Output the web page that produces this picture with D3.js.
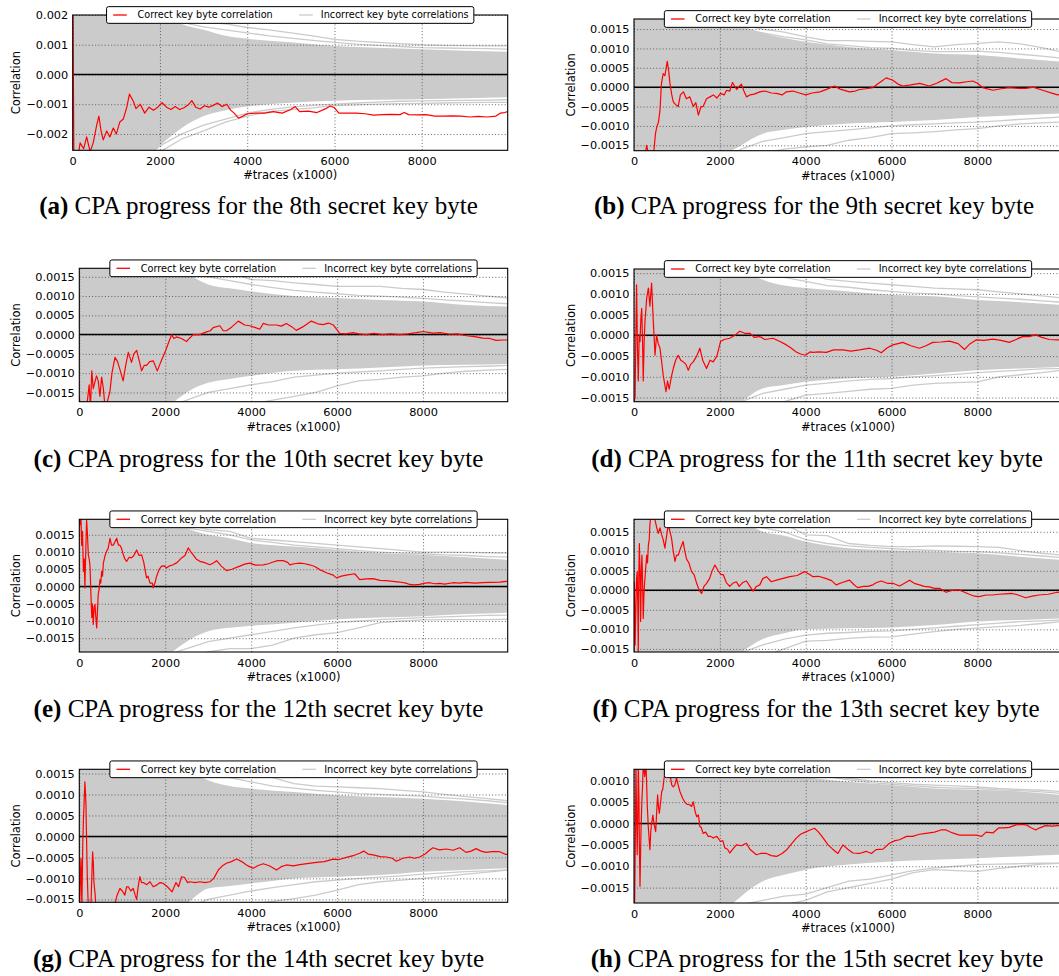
<!DOCTYPE html>
<html><head><meta charset="utf-8">
<script src="https://cdn.jsdelivr.net/npm/d3@7"></script>
<style>body{margin:0;background:#fff}svg{display:block}</style>
</head><body>
<svg id="fig" width="1059" height="976"></svg>
<script>
// ---- shared axis settings ----
const xMax = 9970;
const xTicks = [0, 2000, 4000, 6000, 8000];
const letters = ["a", "b", "c", "d", "e", "f", "g", "h"];
const byteNames = ["8th", "9th", "10th", "11th", "12th", "13th", "14th", "15th"];
const yDomains = [[-0.00255, 0.002], [-0.00164, 0.00176], [-0.00174, 0.00172], [-0.0016, 0.0016],
                  [-0.0019, 0.00195], [-0.00158, 0.00182], [-0.00157, 0.0016], [-0.00186, 0.00127]];
const ticksA = [-0.002, -0.001, 0, 0.001, 0.002];
const ticksMid = [-0.0015, -0.001, -0.0005, 0, 0.0005, 0.001, 0.0015];
const ticksH = [-0.0015, -0.001, -0.0005, 0, 0.0005, 0.001];
const legendLabels = ["Correct key byte correlation", "Incorrect key byte correlations"];

// x positions of the incorrect-key band limits and of the stray incorrect-key traces
const envX = [0, 1000, 1500, 2000, 2500, 3000, 3500, 4000, 5000, 6000, 7000, 8000, 9000, 9970];
const outX = [1500, 2000, 2500, 3000, 3500, 4000, 4500, 5000, 5500, 6000, 6500, 7000, 7500, 8000, 8500, 9000, 9500, 9970];

// ---- (a) 8th byte ----
const redA = [[0,0.0035],[30,-0.0035],[100,-0.003],[170,-0.0023],[250,-0.0025],[320,-0.0021],[400,-0.0026],[470,-0.0023],[550,-0.0017],[600,-0.0014],[650,-0.0019],[700,-0.0022],[780,-0.0019],[850,-0.0021],[930,-0.0018],[1000,-0.002],[1080,-0.0016],[1160,-0.0015],[1240,-0.0011],[1300,-0.00066],[1390,-0.0009],[1450,-0.00115],[1550,-0.001],[1650,-0.0013],[1750,-0.0011],[1850,-0.0012],[1950,-0.0011],[2050,-0.00095],[2150,-0.0011],[2250,-0.00118],[2350,-0.00108],[2450,-0.00118],[2550,-0.00112],[2650,-0.00102],[2730,-0.00088],[2820,-0.0011],[2920,-0.00116],[3020,-0.00105],[3120,-0.0011],[3220,-0.00104],[3320,-0.00096],[3420,-0.00108],[3530,-0.001],[3620,-0.0012],[3700,-0.0013],[3800,-0.00147],[3900,-0.0014],[4000,-0.00132],[4200,-0.0013],[4400,-0.0013],[4600,-0.00125],[4800,-0.0013],[5000,-0.00118],[5100,-0.00108],[5200,-0.00125],[5400,-0.00123],[5600,-0.00128],[5800,-0.00115],[5900,-0.00106],[6000,-0.00112],[6100,-0.0013],[6300,-0.0013],[6500,-0.0013],[6700,-0.00132],[6900,-0.00137],[7100,-0.00135],[7300,-0.00134],[7500,-0.00135],[7600,-0.00128],[7700,-0.00135],[7900,-0.00136],[8100,-0.00135],[8300,-0.0014],[8500,-0.0014],[8700,-0.00139],[8900,-0.0014],[9100,-0.00143],[9300,-0.00141],[9500,-0.00143],[9700,-0.0014],[9800,-0.0013],[9900,-0.00128],[9970,-0.00125]];
const envHiA = [0.005, 0.004, 0.003, 0.0021, 0.0017, 0.0015, 0.0013, 0.0012, 0.00108, 0.00096, 0.0009, 0.00085, 0.0008, 0.00076];
const envLoA = [-0.005, -0.004, -0.0032, -0.0024, -0.0018, -0.0014, -0.0012, -0.00108, -0.00095, -0.00088, -0.00085, -0.00083, -0.0008, -0.00077];
const outA = [
  [0.0025,0.0021,0.00185,0.00175,0.0017,0.00158,0.0015,0.0014,0.0013,0.00118,0.00112,0.00108,0.00104,0.001,0.00098,0.00097,0.00096,0.00096],
  [0.0024,0.002,0.00175,0.0016,0.0015,0.0014,0.0013,0.00122,0.00115,0.00108,0.00102,0.00098,0.00094,0.0009,0.00089,0.00088,0.00087,0.00085],
  [-0.0032,-0.0026,-0.00217,-0.0019,-0.0016,-0.0014,-0.00125,-0.00118,-0.00112,-0.00105,-0.00102,-0.001,-0.00098,-0.00097,-0.00096,-0.00095,-0.00094,-0.00094],
  [-0.003,-0.0024,-0.002,-0.0017,-0.0015,-0.0013,-0.00118,-0.0011,-0.00104,-0.001,-0.00096,-0.00093,-0.0009,-0.00089,-0.00088,-0.00087,-0.00086,-0.00085]];

// ---- (b) 9th byte ----
const redB = [[0,-0.004],[150,-0.0028],[250,-0.0018],[295,-0.0015],[370,-0.0019],[450,-0.0018],[500,-0.0012],[530,-0.00103],[570,-0.0009],[605,-0.0006],[640,0.0001],[680,0.00035],[720,0.0003],[775,0.00067],[810,0.0004],[837,0.0001],[880,-0.0002],[915,-0.00038],[970,-0.00045],[1030,-0.0005],[1080,-0.0002],[1150,-0.00012],[1220,-0.0003],[1300,-0.00025],[1380,-0.0005],[1440,-0.0004],[1500,-0.00072],[1560,-0.0005],[1610,-0.0005],[1690,-0.0003],[1770,-0.00025],[1850,-0.0002],[1930,-0.00028],[2015,-0.00016],[2100,-0.0002],[2155,-0.00008],[2230,-0.0001],[2295,0.00012],[2390,-0.00006],[2500,0.00008],[2560,-0.0001],[2620,-0.00025],[2700,-0.0002],[2800,-0.00018],[2930,-0.00012],[3050,-0.0001],[3200,-0.00015],[3320,-0.00016],[3450,-0.0002],[3550,-0.00012],[3700,-0.0001],[3850,-0.00015],[4000,-0.0002],[4150,-0.00015],[4330,-0.00012],[4500,-0.00005],[4670,0.00003],[4800,-0.00005],[5020,-0.00012],[5150,-0.0001],[5255,-0.00006],[5400,-0.00004],[5565,-0.00001],[5700,0.0001],[5875,0.00024],[6030,0.00018],[6150,0.00008],[6260,0.00003],[6450,0.00006],[6650,0.0001],[6880,0.00003],[7050,0.0001],[7270,0.00022],[7400,0.00012],[7580,0.00011],[7750,0.00014],[7890,0.00016],[8000,0.0001],[8120,-0.00001],[8360,-0.00008],[8550,-0.00004],[8740,-0.00001],[8950,-0.00003],[9130,-0.00003],[9300,0],[9520,-0.00008],[9750,-0.00016],[9870,-0.0002],[9970,-0.00018]];
const envHiB = [0.005, 0.004, 0.003, 0.0019, 0.0016, 0.0014, 0.00127, 0.00117, 0.00104, 0.00096, 0.00087, 0.00083, 0.00074, 0.00066];
const envLoB = [-0.005, -0.004, -0.003, -0.0019, -0.0015, -0.0012, -0.0011, -0.00103, -0.00094, -0.0009, -0.00085, -0.00077, -0.00072, -0.00068];
const outB = [
  [0.0024,0.0019,0.0016,0.0015,0.00142,0.0013,0.0012,0.0012,0.00118,0.00117,0.0011,0.00104,0.0011,0.00113,0.00117,0.00112,0.00102,0.00091],
  [0.0023,0.0018,0.0015,0.0014,0.0013,0.00122,0.00112,0.00107,0.00102,0.001,0.00095,0.00092,0.00092,0.00093,0.0009,0.00085,0.0008,0.00075],
  [-0.0025,-0.002,-0.0018,-0.0017,-0.0016,-0.00154,-0.0015,-0.00137,-0.0013,-0.0012,-0.00118,-0.00115,-0.0011,-0.00107,-0.001,-0.00095,-0.00092,-0.0009],
  [-0.0024,-0.0019,-0.0016,-0.0014,-0.0013,-0.0012,-0.00115,-0.0011,-0.00105,-0.001,-0.00097,-0.00095,-0.00092,-0.0009,-0.00087,-0.00083,-0.0008,-0.00077]];

// ---- (c) 10th byte ----
const redC = [[0,-0.0016],[20,-0.0019],[100,-0.002],[180,-0.0018],[230,-0.0013],[260,-0.0019],[290,-0.00094],[325,-0.0014],[400,-0.00107],[440,-0.0012],[480,-0.0016],[520,-0.0011],[560,-0.0014],[600,-0.0019],[635,-0.0018],[710,-0.0015],[760,-0.001],[830,-0.00059],[890,-0.0007],[945,-0.0009],[1020,-0.0012],[1080,-0.0008],[1140,-0.00046],[1215,-0.00072],[1270,-0.0005],[1335,-0.00041],[1400,-0.0007],[1450,-0.00094],[1510,-0.0008],[1565,-0.0008],[1640,-0.0007],[1720,-0.00068],[1815,-0.00094],[1900,-0.0007],[2010,-0.00041],[2080,-0.0002],[2150,0],[2200,-0.0001],[2265,-0.00006],[2380,-0.0001],[2495,-0.00018],[2560,-0.0001],[2650,0],[2800,0],[2960,0.00007],[3050,0.0001],[3115,0.00018],[3270,0.00023],[3350,0.0001],[3425,0.0001],[3550,0.0002],[3700,0.00035],[3850,0.00025],[3970,0.00023],[4100,0.00018],[4200,0.00014],[4280,0.00029],[4400,0.00025],[4590,0.00025],[4700,0.00022],[4820,0.00029],[4950,0.0002],[5050,0.00011],[5200,0.0002],[5400,0.00035],[5550,0.00028],[5670,0.00026],[5800,0.0003],[5910,0.00025],[6000,0.00012],[6060,0.00003],[6200,0.00002],[6370,0.00005],[6500,0.00002],[6680,0],[6850,0.00003],[7070,0],[7250,0.00002],[7460,0],[7650,0.00002],[7840,0.00005],[8000,0.00008],[8230,0.00004],[8400,0.00005],[8620,0.00001],[8800,0.00002],[9010,-0.00003],[9200,-0.00005],[9390,-0.00009],[9550,-0.0001],[9700,-0.00015],[9860,-0.00014],[9970,-0.00014]];
const envHiC = [0.005, 0.004, 0.003, 0.002, 0.0016, 0.0013, 0.0012, 0.00112, 0.001, 0.00095, 0.0009, 0.00086, 0.00077, 0.00073];
const envLoC = [-0.005, -0.004, -0.003, -0.002, -0.0015, -0.00125, -0.00115, -0.00107, -0.00094, -0.0009, -0.00085, -0.0008, -0.00078, -0.00076];
const outC = [
  [0.0025,0.002,0.0018,0.0017,0.0016,0.00143,0.0014,0.00134,0.0013,0.00125,0.00125,0.00125,0.0012,0.00117,0.0011,0.00105,0.001,0.00095],
  [0.0024,0.0019,0.0016,0.0015,0.0014,0.0013,0.00122,0.00115,0.0011,0.00106,0.00102,0.001,0.00097,0.00094,0.0009,0.00087,0.00083,0.0008],
  [-0.0025,-0.002,-0.0019,-0.0018,-0.0018,-0.0018,-0.0017,-0.0016,-0.0015,-0.00133,-0.0012,-0.00116,-0.0011,-0.00107,-0.001,-0.00095,-0.00092,-0.0009],
  [-0.0024,-0.0019,-0.0017,-0.0015,-0.0014,-0.0013,-0.00122,-0.0011,-0.00105,-0.001,-0.00097,-0.00094,-0.0009,-0.00087,-0.00085,-0.00083,-0.00082,-0.0008]];

// ---- (d) 11th byte ----
const redD = [[0,-0.0016],[25,-0.0015],[45,0.0002],[60,0.00122],[80,-0.0003],[100,-0.0011],[120,0],[140,-0.00015],[160,0.0004],[180,0.00065],[200,-0.0002],[215,-0.0011],[235,-0.0002],[255,0.00033],[275,0.0006],[295,0.0009],[335,0.00114],[370,0.0007],[410,0.00126],[450,0.00033],[490,-0.00048],[525,0],[565,-0.0002],[605,-0.00031],[640,-0.0006],[680,-0.00096],[745,-0.00136],[780,-0.0011],[820,-0.0013],[870,-0.001],[915,-0.0008],[970,-0.0006],[1030,-0.00048],[1090,-0.0006],[1150,-0.00064],[1210,-0.0007],[1265,-0.00084],[1320,-0.0007],[1380,-0.00064],[1460,-0.0005],[1535,-0.00031],[1600,-0.0006],[1690,-0.0008],[1770,-0.0006],[1845,-0.00064],[1930,-0.0005],[2015,-0.00015],[2100,-0.0001],[2230,-0.00007],[2350,0],[2465,0.0001],[2580,0.00005],[2700,0.00005],[2800,-0.00005],[2930,-0.00003],[3050,-0.0001],[3240,-0.00007],[3400,-0.00015],[3550,-0.00023],[3650,-0.0003],[3780,-0.0004],[3880,-0.00045],[3990,-0.00048],[4100,-0.0004],[4170,-0.00041],[4300,-0.0004],[4480,-0.00041],[4650,-0.00035],[4870,-0.00035],[5050,-0.00038],[5255,-0.00035],[5490,-0.00031],[5650,-0.00036],[5760,-0.00042],[5900,-0.0003],[6030,-0.00023],[6150,-0.0002],[6260,-0.00017],[6450,-0.00025],[6650,-0.00031],[6800,-0.00025],[6960,-0.00017],[7150,-0.00016],[7350,-0.00014],[7550,-0.0002],[7700,-0.00034],[7830,-0.0002],[7970,-0.00011],[8150,-0.00012],[8360,-0.00009],[8550,-0.00012],[8740,-0.00017],[8900,-0.0001],[9050,-0.00003],[9200,-0.00003],[9360,0.00001],[9500,-0.00005],[9670,-0.0001],[9870,-0.00011],[9970,-0.00011]];
const envHiD = [0.005, 0.004, 0.003, 0.002, 0.0016, 0.00134, 0.0012, 0.00114, 0.00106, 0.00098, 0.00094, 0.00085, 0.0008, 0.00073];
const envLoD = [-0.005, -0.004, -0.003, -0.002, -0.0016, -0.00128, -0.0012, -0.00112, -0.00104, -0.001, -0.00092, -0.00084, -0.0008, -0.00076];
const outD = [
  [0.0025,0.002,0.0018,0.0017,0.0016,0.0015,0.00135,0.0013,0.00126,0.00122,0.00118,0.00114,0.00112,0.0011,0.00105,0.001,0.00095,0.0009],
  [0.0024,0.0019,0.0016,0.0015,0.0014,0.0013,0.0012,0.00116,0.0011,0.00106,0.00102,0.001,0.00096,0.00093,0.0009,0.00087,0.00083,0.0008],
  [-0.0025,-0.002,-0.0018,-0.0017,-0.0016,-0.00144,-0.0014,-0.00135,-0.0013,-0.00128,-0.0012,-0.00116,-0.00114,-0.00112,-0.001,-0.00095,-0.0009,-0.00084],
  [-0.0024,-0.0019,-0.0016,-0.0014,-0.0013,-0.0012,-0.00115,-0.0011,-0.00106,-0.00104,-0.001,-0.00097,-0.00094,-0.0009,-0.00087,-0.00084,-0.00081,-0.0008]];

// ---- (e) 12th byte ----
const redE = [[0,0.0025],[15,0.00179],[35,0.0022],[55,0.0012],[75,0.0016],[95,0.00044],[115,0.0008],[130,-0.00004],[150,0.001],[170,0.00193],[190,0.0015],[210,0.00092],[230,0.0008],[250,0.00058],[270,-0.0002],[290,-0.0009],[305,-0.0005],[325,-0.0011],[345,-0.0006],[365,-0.00052],[385,-0.0009],[405,-0.0012],[420,-0.0008],[440,-0.00023],[460,-0.0001],[480,0.0002],[500,0.0001],[520,0.00044],[540,0.0003],[560,0.00068],[600,0.0009],[635,0.00102],[670,0.0011],[715,0.0014],[750,0.0012],[790,0.0012],[830,0.0013],[870,0.0014],[910,0.0012],[945,0.0012],[985,0.0011],[1025,0.00092],[1060,0.0008],[1100,0.00073],[1160,0.00085],[1215,0.00083],[1270,0.0009],[1335,0.00106],[1390,0.0009],[1450,0.00092],[1500,0.0007],[1565,0.00025],[1600,0.0003],[1645,0.0001],[1700,0.0001],[1720,-0.00004],[1760,0.0001],[1800,0.0003],[1860,0.0005],[1915,0.00059],[1970,0.0006],[2030,0.00054],[2100,0.0006],[2185,0.00063],[2280,0.0007],[2380,0.00083],[2460,0.0009],[2535,0.00112],[2600,0.001],[2650,0.00092],[2720,0.0008],[2805,0.00073],[2900,0.0007],[3040,0.00063],[3120,0.00068],[3195,0.00075],[3300,0.0006],[3425,0.00046],[3550,0.0005],[3735,0.00059],[3850,0.00065],[3970,0.00068],[4100,0.00062],[4280,0.00063],[4400,0.00066],[4510,0.00071],[4620,0.00075],[4745,0.00075],[4850,0.0007],[4900,0.00063],[5000,0.00066],[5130,0.00068],[5250,0.00066],[5360,0.00063],[5480,0.00058],[5595,0.00049],[5750,0.0004],[5910,0.00033],[5985,0.00025],[6100,0.0003],[6215,0.00033],[6410,0.00037],[6525,0.0002],[6680,0.00022],[6835,0.00023],[7000,0.00018],[7145,0.00017],[7300,0.00015],[7460,0.00013],[7600,0.0001],[7690,0.00006],[7800,0.00005],[7920,0.00006],[8050,0.0001],[8155,0.00011],[8270,0.00008],[8385,0.00009],[8500,0.00007],[8695,0.00011],[8850,0.0001],[9000,0.00012],[9200,0.0001],[9390,0.00011],[9550,0.00012],[9780,0.00013],[9935,0.00015],[9970,0.00015]];
const envHiE = [0.005, 0.004, 0.003, 0.0021, 0.0017, 0.0015, 0.0014, 0.00126, 0.00116, 0.00107, 0.00097, 0.00092, 0.00085, 0.00078];
const envLoE = [-0.005, -0.004, -0.003, -0.0021, -0.0016, -0.0013, -0.0012, -0.00114, -0.00105, -0.00095, -0.0009, -0.00086, -0.0008, -0.00076];
const outE = [
  [0.0025,0.002,0.0018,0.00165,0.0016,0.0014,0.00135,0.0013,0.00125,0.0012,0.00115,0.0011,0.00105,0.001,0.001,0.00099,0.00098,0.00097],
  [0.0024,0.0019,0.0017,0.0016,0.0015,0.00135,0.00128,0.0012,0.00115,0.0011,0.00104,0.001,0.00097,0.00095,0.00092,0.0009,0.00087,0.00085],
  [-0.0025,-0.0021,-0.002,-0.0019,-0.0018,-0.0018,-0.0017,-0.0015,-0.0014,-0.00134,-0.0012,-0.00105,-0.001,-0.00097,-0.00096,-0.00096,-0.00096,-0.00095],
  [-0.0024,-0.002,-0.0018,-0.0016,-0.0015,-0.0014,-0.0013,-0.0012,-0.00112,-0.00105,-0.001,-0.00096,-0.00093,-0.0009,-0.00088,-0.00086,-0.00084,-0.00083]];

// ---- (f) 13th byte ----
const redF = [[0,-0.0016],[10,0.0002],[25,-0.0014],[45,-0.00038],[60,0.0003],[75,0.00048],[90,-0.0005],[100,-0.00157],[112,0.0004],[125,0.0012],[140,0.0004],[155,-0.0008],[170,0.0005],[185,0.0009],[200,0.0002],[215,-0.00072],[235,0],[255,0.0003],[275,0.0006],[295,0.0009],[315,0.0007],[335,0.00116],[355,0.0013],[370,0.00168],[390,0.0019],[410,0.0019],[450,0.0019],[490,0.0018],[530,0.0016],[565,0.00146],[605,0.0016],[645,0.00142],[680,0.0013],[720,0.00108],[760,0.0014],[800,0.00168],[840,0.0015],[875,0.00133],[915,0.001],[955,0.00074],[990,0.0009],[1030,0.0009],[1090,0.0011],[1145,0.00125],[1185,0.001],[1225,0.0008],[1280,0.0007],[1340,0.00048],[1400,0.0004],[1460,0.00018],[1520,0],[1575,-0.00008],[1630,0.0001],[1690,0.00018],[1760,0.0003],[1820,0.0005],[1885,0.00065],[1960,0.0005],[2030,0.0004],[2080,0.0004],[2150,0.0002],[2230,0.0001],[2300,0.00018],[2385,0.00022],[2450,0.0001],[2530,0.0002],[2620,0.00024],[2700,0.0001],[2775,-0.00002],[2850,0.0001],[2930,0.00014],[3000,0.0003],[3085,0.00035],[3200,0.00022],[3320,0.00026],[3450,0.0003],[3630,0.00035],[3800,0.00038],[3975,0.00048],[4100,0.0004],[4170,0.00035],[4300,0.00036],[4480,0.0003],[4600,0.00025],[4710,0.00014],[4850,0.0002],[5020,0.00026],[5120,0.00015],[5210,0.00007],[5350,0.0001],[5450,0.0001],[5565,0.00014],[5650,0.0002],[5760,0.00024],[5900,0.00018],[6030,0.00018],[6185,0.00011],[6300,0.00018],[6420,0.00026],[6530,0.00018],[6650,0.00014],[6760,0.0001],[6880,0.00009],[7000,0.00005],[7115,0.00005],[7270,-0.00005],[7400,0],[7580,0.00001],[7700,-0.00005],[7810,-0.0001],[7930,-0.00015],[8040,-0.00016],[8200,-0.00012],[8350,-0.00012],[8500,-0.0001],[8650,-0.00009],[8810,-0.00008],[8950,-0.00012],[9120,-0.00019],[9280,-0.00015],[9430,-0.00012],[9650,-0.0001],[9860,-0.00005],[9970,-0.00004]];
const envHiF = [0.005, 0.004, 0.003, 0.0021, 0.0018, 0.0015, 0.0014, 0.00125, 0.00108, 0.00103, 0.00099, 0.00095, 0.00086, 0.00078];
const envLoF = [-0.005, -0.004, -0.003, -0.0021, -0.0016, -0.00125, -0.0011, -0.001, -0.00097, -0.00095, -0.00089, -0.0008, -0.00076, -0.00072];
const outF = [
  [0.0025,0.002,0.0019,0.0019,0.0017,0.00142,0.0014,0.0012,0.00115,0.00112,0.00112,0.00114,0.00113,0.00112,0.0011,0.00102,0.00095,0.0009],
  [0.0024,0.0019,0.0018,0.0016,0.0015,0.0013,0.0012,0.00114,0.0011,0.00107,0.00104,0.00102,0.001,0.00099,0.00096,0.00092,0.00088,0.00084],
  [-0.0025,-0.002,-0.0019,-0.0017,-0.0015,-0.0013,-0.00128,-0.00123,-0.0012,-0.00119,-0.00112,-0.00106,-0.001,-0.00097,-0.00093,-0.0009,-0.00085,-0.0008],
  [-0.0024,-0.0019,-0.0016,-0.0014,-0.00125,-0.00115,-0.0011,-0.00108,-0.00105,-0.00104,-0.001,-0.00096,-0.00092,-0.00088,-0.00084,-0.0008,-0.00078,-0.00076]];

// ---- (g) 14th byte ----
const redG = [[0,-0.0018],[15,-0.0014],[30,-0.0008],[40,-0.00052],[60,-0.0017],[80,-0.0002],[95,0.00035],[115,0.0009],[130,0.0013],[145,0.001],[155,0.00075],[170,-0.0001],[185,-0.00092],[200,-0.0014],[215,-0.0018],[260,-0.002],[290,-0.001],[310,-0.00037],[325,-0.0006],[340,-0.00108],[370,-0.0014],[390,-0.0018],[440,-0.0022],[480,-0.0021],[550,-0.0024],[620,-0.0022],[700,-0.0019],[760,-0.0017],[790,-0.0018],[830,-0.0016],[880,-0.0014],[945,-0.00124],[1000,-0.0013],[1060,-0.0014],[1100,-0.0012],[1140,-0.0012],[1200,-0.0013],[1255,-0.00124],[1300,-0.0014],[1335,-0.0015],[1370,-0.0012],[1410,-0.00096],[1450,-0.0011],[1490,-0.0011],[1570,-0.00115],[1645,-0.00108],[1720,-0.0012],[1800,-0.00116],[1880,-0.0011],[1955,-0.00112],[2050,-0.0012],[2160,-0.00132],[2250,-0.0011],[2310,-0.0012],[2380,-0.00096],[2450,-0.00098],[2520,-0.0011],[2575,-0.00108],[2700,-0.0011],[2805,-0.00108],[2920,-0.0011],[3040,-0.00108],[3130,-0.001],[3235,-0.0008],[3330,-0.0007],[3425,-0.00064],[3540,-0.0006],[3660,-0.00054],[3780,-0.0006],[3890,-0.00068],[3960,-0.00072],[4045,-0.00076],[4150,-0.0007],[4280,-0.00065],[4420,-0.0007],[4590,-0.0008],[4700,-0.00072],[4820,-0.00068],[4980,-0.0007],[5130,-0.00067],[5300,-0.00065],[5520,-0.00062],[5700,-0.0006],[5910,-0.00054],[6050,-0.00055],[6215,-0.0005],[6400,-0.00045],[6525,-0.0004],[6620,-0.00035],[6720,-0.00042],[6840,-0.00044],[7000,-0.00048],[7150,-0.00049],[7280,-0.00052],[7380,-0.00059],[7530,-0.00052],[7690,-0.00049],[7800,-0.00052],[7920,-0.00049],[8050,-0.00042],[8150,-0.00033],[8230,-0.00027],[8380,-0.00032],[8540,-0.0003],[8700,-0.00033],[8850,-0.00027],[9000,-0.00038],[9120,-0.00035],[9235,-0.00029],[9350,-0.00035],[9465,-0.00038],[9600,-0.00036],[9770,-0.00036],[9930,-0.00043],[9970,-0.00043]];
const envHiG = [0.005, 0.004, 0.003, 0.002, 0.0016, 0.00134, 0.0012, 0.00114, 0.00106, 0.00098, 0.00094, 0.0009, 0.00083, 0.00075];
const envLoG = [-0.005, -0.004, -0.003, -0.002, -0.0016, -0.00124, -0.00118, -0.00112, -0.001, -0.00096, -0.00092, -0.00084, -0.0008, -0.00076];
const outG = [
  [0.0025,0.002,0.0018,0.0017,0.0016,0.0015,0.0014,0.00126,0.0012,0.00118,0.00116,0.00114,0.0011,0.00106,0.001,0.00095,0.0009,0.00085],
  [0.0024,0.0019,0.0016,0.0015,0.0014,0.0013,0.0012,0.00115,0.0011,0.00106,0.00102,0.001,0.00098,0.00096,0.00092,0.00089,0.00085,0.0008],
  [-0.0025,-0.002,-0.0019,-0.0018,-0.0017,-0.0016,-0.00155,-0.00148,-0.0014,-0.00128,-0.00115,-0.00108,-0.00104,-0.001,-0.00095,-0.0009,-0.00085,-0.0008],
  [-0.0024,-0.0019,-0.0017,-0.0015,-0.0014,-0.0013,-0.00122,-0.00115,-0.00108,-0.00104,-0.001,-0.00097,-0.00094,-0.0009,-0.00087,-0.00084,-0.00082,-0.0008]];

// ---- (h) 15th byte ----
const redH = [[0,-0.002],[15,-0.0018],[30,-0.0005],[45,0.0014],[60,0.0002],[75,-0.00073],[90,0.0003],[100,0.0014],[115,0.0006],[125,-0.0005],[140,-0.00147],[160,-0.0003],[180,0.00044],[200,0.0009],[215,0.0014],[250,0.0011],[280,0.0014],[310,0.0004],[335,-0.00011],[370,-0.00061],[390,-0.0002],[410,0],[440,0.0002],[465,0],[505,-0.00019],[530,0.0003],[550,0.00067],[570,0.0004],[590,0.00024],[620,0.0005],[645,0.00075],[670,0.0008],[700,0.00106],[745,0.0013],[790,0.0011],[840,0.00114],[880,0.0009],[915,0.00086],[950,0.0009],[990,0.00106],[1030,0.0009],[1070,0.00075],[1130,0.0006],[1185,0.0005],[1240,0.00045],[1300,0.00044],[1340,0.0004],[1380,0.00051],[1420,0.0003],[1460,0.00016],[1500,0.0002],[1535,-0.00007],[1570,-0.0001],[1610,-0.00023],[1670,-0.0002],[1730,-0.0003],[1790,-0.0003],[1845,-0.00034],[1930,-0.0003],[2015,-0.00042],[2070,-0.0004],[2115,-0.00057],[2180,-0.0006],[2230,-0.00069],[2300,-0.0006],[2385,-0.0005],[2500,-0.00052],[2620,-0.00046],[2700,-0.0006],[2850,-0.00073],[2950,-0.0007],[3085,-0.0007],[3200,-0.00075],[3320,-0.00077],[3450,-0.0007],[3550,-0.00062],[3650,-0.0005],[3780,-0.00034],[3880,-0.00025],[3990,-0.0002],[4100,-0.00015],[4205,-0.00011],[4300,-0.0002],[4400,-0.00033],[4520,-0.0005],[4630,-0.0006],[4750,-0.0007],[4865,-0.0005],[4980,-0.0006],[5100,-0.00069],[5250,-0.0007],[5410,-0.00065],[5530,-0.0007],[5640,-0.00061],[5800,-0.0006],[5950,-0.00046],[6080,-0.0004],[6185,-0.00038],[6350,-0.0003],[6490,-0.0003],[6650,-0.00025],[6800,-0.00023],[7000,-0.0002],[7150,-0.00015],[7270,-0.00015],[7420,-0.00022],[7580,-0.00027],[7750,-0.00027],[7970,-0.00027],[8100,-0.0003],[8200,-0.0002],[8360,-0.00022],[8500,-0.0001],[8620,-0.0001],[8740,-0.00009],[8900,-0.00003],[9000,-0.00002],[9130,-0.00003],[9250,-0.0001],[9360,-0.00015],[9450,-0.0001],[9590,-0.00005],[9750,-0.00006],[9870,-0.00005],[9970,-0.00004]];
const envHiH = [0.005, 0.004, 0.003, 0.0021, 0.0017, 0.0015, 0.0013, 0.0011, 0.00098, 0.0009, 0.00082, 0.00079, 0.00075, 0.00067];
const envLoH = [-0.005, -0.004, -0.003, -0.0022, -0.0017, -0.00135, -0.0012, -0.00108, -0.00096, -0.00089, -0.00085, -0.00081, -0.00077, -0.00073];
const outH = [
  [0.0022,0.0018,0.0016,0.0015,0.0014,0.00125,0.00115,0.00106,0.001,0.00096,0.00092,0.0009,0.00088,0.00086,0.00082,0.0008,0.00078,0.00075],
  [0.0021,0.0017,0.0015,0.0014,0.0013,0.0012,0.0011,0.00102,0.00096,0.00092,0.00088,0.00085,0.00083,0.00082,0.00079,0.00077,0.00074,0.00071],
  [-0.0026,-0.0023,-0.0021,-0.0019,-0.0019,-0.0018,-0.0016,-0.0015,-0.0014,-0.0013,-0.00115,-0.00108,-0.0011,-0.00112,-0.00105,-0.001,-0.00095,-0.00093],
  [-0.0025,-0.0021,-0.0019,-0.0018,-0.0017,-0.00165,-0.0015,-0.00135,-0.0013,-0.0012,-0.0011,-0.00104,-0.001,-0.00096,-0.00095,-0.00094,-0.00093,-0.00093]];

const reds = [redA, redB, redC, redD, redE, redF, redG, redH];
const envHis = [envHiA, envHiB, envHiC, envHiD, envHiE, envHiF, envHiG, envHiH];
const envLos = [envLoA, envLoB, envLoC, envLoD, envLoE, envLoF, envLoG, envLoH];
const outs = [outA, outB, outC, outD, outE, outF, outG, outH];
const yTickSets = [ticksA, ticksMid, ticksMid, ticksMid, ticksMid, ticksMid, ticksMid, ticksH];

// ---- layout of the eight sub-figures ----
const frames = [
  {l: 72.7, t: 15,    r: 507.7, b: 150.3, cx: 258.5, capY: 214,   labX: 20},
  {l: 634,  t: 19,    r: 1062,  b: 150.7, cx: 814,   capY: 213.5, labX: 575},
  {l: 79.3, t: 268.3, r: 507.7, b: 401.7, cx: 258.5, capY: 467.3, labX: 20},
  {l: 634,  t: 269,   r: 1062,  b: 401.7, cx: 817,   capY: 467.3, labX: 575},
  {l: 79.3, t: 519.3, r: 507.7, b: 652,   cx: 258.5, capY: 717.3, labX: 20},
  {l: 634,  t: 519.3, r: 1062,  b: 652,   cx: 816,   capY: 717.3, labX: 575},
  {l: 79.3, t: 769.3, r: 507.7, b: 902.3, cx: 258.5, capY: 967.3, labX: 20},
  {l: 634,  t: 769.3, r: 1062,  b: 903,   cx: 817,   capY: 967,   labX: 575}
];

const GREY = "#cbcbcb";
const SANS = "'DejaVu Sans', sans-serif";
const SERIF = "'Liberation Serif', 'DejaVu Serif', serif";
const svg = d3.select("#fig");
const defs = svg.append("defs");

// caption size chosen so that the first caption spans its column width
let capSize = 21;
{
  const probe = svg.append("text").attr("font-family", SERIF).attr("font-size", 21);
  probe.append("tspan").attr("font-weight", "bold").text("(a)");
  probe.append("tspan").text(" CPA progress for the 8th secret key byte");
  const w = probe.node().getComputedTextLength();
  probe.remove();
  if (w > 0) capSize = 21 * 439 / w;
}

frames.forEach((f, i) => {
  const g = svg.append("g");
  const x = d3.scaleLinear().domain([0, xMax]).range([f.l, f.r]);
  const y = d3.scaleLinear().domain(yDomains[i]).range([f.b, f.t]);
  const clipId = "clip" + i;
  defs.append("clipPath").attr("id", clipId)
    .append("rect").attr("x", f.l).attr("y", f.t).attr("width", f.r - f.l).attr("height", f.b - f.t);

  const plot = g.append("g").attr("clip-path", `url(#${clipId})`);
  plot.append("rect").attr("x", f.l).attr("y", f.t).attr("width", f.r - f.l).attr("height", f.b - f.t).attr("fill", "#fff");

  // incorrect-key correlations: dense band plus stray traces
  const band = d3.area()
    .x((d, j) => x(envX[j]))
    .y0((d, j) => y(envLos[i][j]))
    .y1((d, j) => y(envHis[i][j]))
    .curve(d3.curveMonotoneX);
  plot.append("path").datum(envX).attr("d", band).attr("fill", GREY);

  const trace = d3.line().x((d, j) => x(outX[j])).y(d => y(d)).curve(d3.curveLinear);
  outs[i].forEach(o => {
    plot.append("path").datum(o).attr("d", trace)
      .attr("fill", "none").attr("stroke", GREY).attr("stroke-width", 1.3);
  });

  // dotted grid
  const gridX = d3.axisBottom(x).tickValues(xTicks).tickSize(-(f.b - f.t)).tickFormat("");
  const gx = plot.append("g").attr("transform", `translate(0,${f.b})`).call(gridX);
  const gridY = d3.axisLeft(y).tickValues(yTickSets[i]).tickSize(-(f.r - f.l)).tickFormat("");
  const gy = plot.append("g").attr("transform", `translate(${f.l},0)`).call(gridY);
  [gx, gy].forEach(a => {
    a.select(".domain").remove();
    a.selectAll("line").attr("stroke", "#555").attr("stroke-width", 0.9).attr("stroke-dasharray", "1,2.2");
  });

  // zero reference line
  plot.append("line").attr("x1", f.l).attr("x2", f.r).attr("y1", y(0)).attr("y2", y(0))
    .attr("stroke", "#000").attr("stroke-width", 1.5);

  // correct-key correlation
  const redLine = d3.line().x(d => x(d[0])).y(d => y(d[1]));
  plot.append("path").datum(reds[i]).attr("d", redLine)
    .attr("fill", "none").attr("stroke", "#ff0000").attr("stroke-width", 1.2).attr("stroke-linejoin", "round");

  // frame
  g.append("rect").attr("x", f.l).attr("y", f.t).attr("width", f.r - f.l).attr("height", f.b - f.t)
    .attr("fill", "none").attr("stroke", "#000").attr("stroke-width", 1.1);

  // tick labels
  const ax = d3.axisBottom(x).tickValues(xTicks).tickSize(0).tickPadding(6.5).tickFormat(d3.format("d"));
  const axg = g.append("g").attr("transform", `translate(0,${f.b})`).call(ax);
  const yFmt = d3.format(i === 0 ? ".3f" : ".4f");
  const ay = d3.axisLeft(y).tickValues(yTickSets[i]).tickSize(0).tickPadding(4.5).tickFormat(yFmt);
  const ayg = g.append("g").attr("transform", `translate(${f.l},0)`).call(ay);
  [axg, ayg].forEach(a => {
    a.select(".domain").remove();
    a.selectAll("text").attr("font-family", SANS).attr("font-size", 11.3).attr("fill", "#000");
  });

  // axis titles
  g.append("text").attr("x", (f.l + f.r) / 2).attr("y", f.b + 29).attr("text-anchor", "middle")
    .attr("font-family", SANS).attr("font-size", 11.5).text("#traces (x1000)");
  g.append("text").attr("transform", `translate(${f.labX},${(f.t + f.b) / 2}) rotate(-90)`)
    .attr("text-anchor", "middle").attr("font-family", SANS).attr("font-size", 11.5).text("Correlation");

  // legend centred on the top edge of the plot
  const lw = 367.3, lh = 16.7;
  const lx = (f.l + f.r) / 2 - lw / 2, ly = f.t - lh / 2;
  const lg = g.append("g").attr("transform", `translate(${lx},${ly})`);
  lg.append("rect").attr("width", lw).attr("height", lh).attr("rx", 2).attr("ry", 2)
    .attr("fill", "#fff").attr("stroke", "#000").attr("stroke-width", 1);
  const entries = [{c: "#ff0000", sx: 6.6, tx: 31}, {c: GREY, sx: 192.6, tx: 214.3}];
  entries.forEach((e, k) => {
    lg.append("line").attr("x1", e.sx).attr("x2", e.sx + 13.6).attr("y1", lh / 2).attr("y2", lh / 2)
      .attr("stroke", e.c).attr("stroke-width", 1.3);
    lg.append("text").attr("x", e.tx).attr("y", lh / 2 + 3.4)
      .attr("font-family", SANS).attr("font-size", 9.7).attr("fill", "#000").text(legendLabels[k]);
  });

  // caption
  const cap = svg.append("text").attr("x", f.cx).attr("y", f.capY).attr("text-anchor", "middle")
    .attr("font-family", SERIF).attr("font-size", capSize).attr("fill", "#000");
  cap.append("tspan").attr("font-weight", "bold").text(`(${letters[i]})`);
  cap.append("tspan").text(` CPA progress for the ${byteNames[i]} secret key byte`);
});
</script>
</body></html>
